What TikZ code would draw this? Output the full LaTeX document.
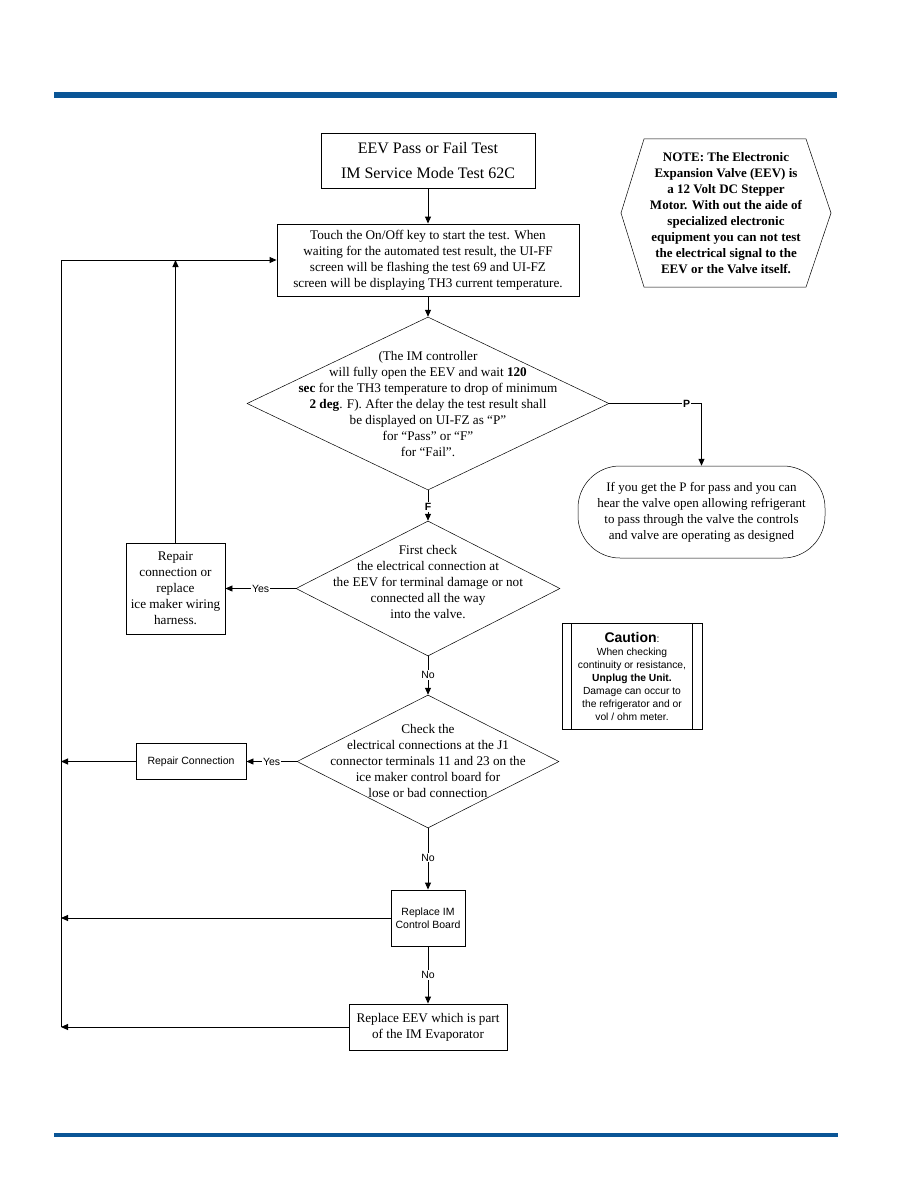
\documentclass[tikz,border=0pt]{standalone}
\usepackage{fontspec}
\setmainfont{Liberation Serif}
\setsansfont{Liberation Sans}
\usetikzlibrary{arrows.meta,shapes.geometric}
\definecolor{barblue}{HTML}{0A5596}
\begin{document}
\begin{tikzpicture}[x=1pt,y=-1pt,
  proc/.style={draw, line width=0.9pt, rectangle, inner sep=0pt, align=center, font=\fontsize{13.2}{16}\selectfont},
  sproc/.style={proc, font=\sffamily\fontsize{10.5}{13}\selectfont},
  dec/.style={draw, diamond, line width=0.5pt, inner sep=0pt},
  dtext/.style={align=center, inner sep=0pt, font=\fontsize{13.2}{16}\selectfont},
  flow/.style={line width=0.9pt, -{Triangle[length=7pt,width=6pt]}},
  link/.style={line width=0.9pt},
  lbl/.style={fill=white, inner sep=1pt, font=\sffamily\fontsize{10.5}{12}\selectfont}]
\useasboundingbox (0,0) rectangle (918,1188);
% header / footer bars
\fill[barblue] (54,92) rectangle (837,98);
\fill[barblue] (54,1133) rectangle (838,1136.5);

% nodes
\node[proc, minimum width=214, minimum height=55, font=\fontsize{16}{25}\selectfont] (title) at (428,160.5)
  {EEV Pass or Fail Test\\IM Service Mode Test 62C};
\node[proc, minimum width=302, minimum height=72] (b2) at (428,260)
  {Touch the On/Off key to start the test. When\\waiting for the automated test result, the UI-FF\\screen will be flashing the test 69 and UI-FZ\\screen will be displaying TH3 current temperature.};

\node[dec, minimum width=362, minimum height=173] (d1) at (428,403.5) {};
\node[dtext] (d1t) at (428,404)
  {(The IM controller\\will fully open the EEV and wait \textbf{120}\\\textbf{sec} for the TH3 temperature to drop of minimum\\\textbf{2 deg}. F). After the delay the test result shall\\be displayed on UI-FZ as “P”\\for “Pass” or “F”\\for “Fail”.};

\node[draw, line width=0.5pt, rounded corners=42, minimum width=247, minimum height=92, inner sep=0pt, align=center, font=\fontsize{13}{16}\selectfont] (term) at (701.5,512)
  {If you get the P for pass and you can\\hear the valve open allowing refrigerant\\to pass through the valve the controls\\and valve are operating as designed};

\node[dec, minimum width=264, minimum height=135] (d2) at (428,588.5) {};
\node[dtext] (d2t) at (428,582)
  {First check\\the electrical connection at\\the EEV for terminal damage or not\\connected all the way\\into the valve.};

\node[proc, minimum width=99, minimum height=91] (rep) at (175.5,588.5)
  {Repair\\connection or\\replace\\ice maker wiring\\harness.};

\node[dec, minimum width=262, minimum height=133] (d3) at (428,761.5) {};
\node[dtext] (d3t) at (428,760.5)
  {Check the\\electrical connections at the J1\\connector terminals 11 and 23 on the\\ice maker control board for\\lose or bad connection};

\node[sproc, minimum width=110, minimum height=36] (rc) at (191,761.5) {Repair Connection};
\node[sproc, minimum width=74, minimum height=56] (rim) at (428,918) {Replace IM\\Control Board};
\node[proc, minimum width=158, minimum height=46] (ree) at (428,1027) {Replace EEV which is part\\of the IM Evaporator};

% caution box
\node[draw, line width=0.9pt, minimum width=140, minimum height=106, inner sep=0pt, align=center, font=\sffamily\fontsize{10.3}{13}\selectfont] (caut) at (632,676.5)
  {{\bfseries\fontsize{14}{15}\selectfont Caution}:\\When checking\\continuity or resistance,\\\textbf{Unplug the Unit.}\\Damage can occur to\\the refrigerator and or\\vol / ohm meter.};
\draw[line width=0.9pt] ([xshift=10]caut.north west) -- ([xshift=10]caut.south west);
\draw[line width=0.9pt] ([xshift=-10]caut.north east) -- ([xshift=-10]caut.south east);

% note hexagon
\draw[line width=0.5pt] (644,139) -- (806,139) -- (831,213) -- (806,287) -- (644,287) -- (621,213) -- cycle;
\node[align=center, inner sep=0pt, font=\bfseries\fontsize{13}{16}\selectfont] (note) at (726,213)
  {NOTE: The Electronic\\Expansion Valve (EEV) is\\a 12 Volt DC Stepper\\Motor. With out the aide of\\specialized electronic\\equipment you can not test\\the electrical signal to the\\EEV or the Valve itself.};

% coordinates
\coordinate (lt) at (61,260);
\coordinate (l3) at (61,761.5);
\coordinate (l4) at (61,918);
\coordinate (l5) at (61,1027);
\coordinate (pc) at (701.5,403.5);
\coordinate (rj) at (175.5,260);

% connectors
\draw[flow] (title) -- (b2);
\draw[flow] (b2) -- (d1.north);
\draw[link] (d1.east) -- node[lbl, pos=0.84, font=\sffamily\bfseries\fontsize{10.5}{12}\selectfont]{P} (pc);
\draw[flow] (pc) -- (term.north);
\draw[flow] (d1.south) -- node[lbl, pos=0.55, font=\sffamily\bfseries\fontsize{10.5}{12}\selectfont]{F} (d2.north);
\draw[flow] (d2.west) -- node[lbl]{Yes} (rep.east);
\draw[flow] (rep.north) -- (rj);
\draw[link] (l5) -- (lt);
\draw[flow] (lt) -- (b2.west);
\draw[flow] (d2.south) -- node[lbl, pos=0.49]{No} (d3.north);
\draw[flow] (d3.west) -- node[lbl]{Yes} (rc.east);
\draw[flow] (rc.west) -- (l3);
\draw[flow] (d3.south) -- node[lbl, pos=0.48]{No} (rim.north);
\draw[flow] (rim.west) -- (l4);
\draw[flow] (rim.south) -- node[lbl]{No} (ree.north);
\draw[flow] (ree.west) -- (l5);
\end{tikzpicture}
\end{document}
